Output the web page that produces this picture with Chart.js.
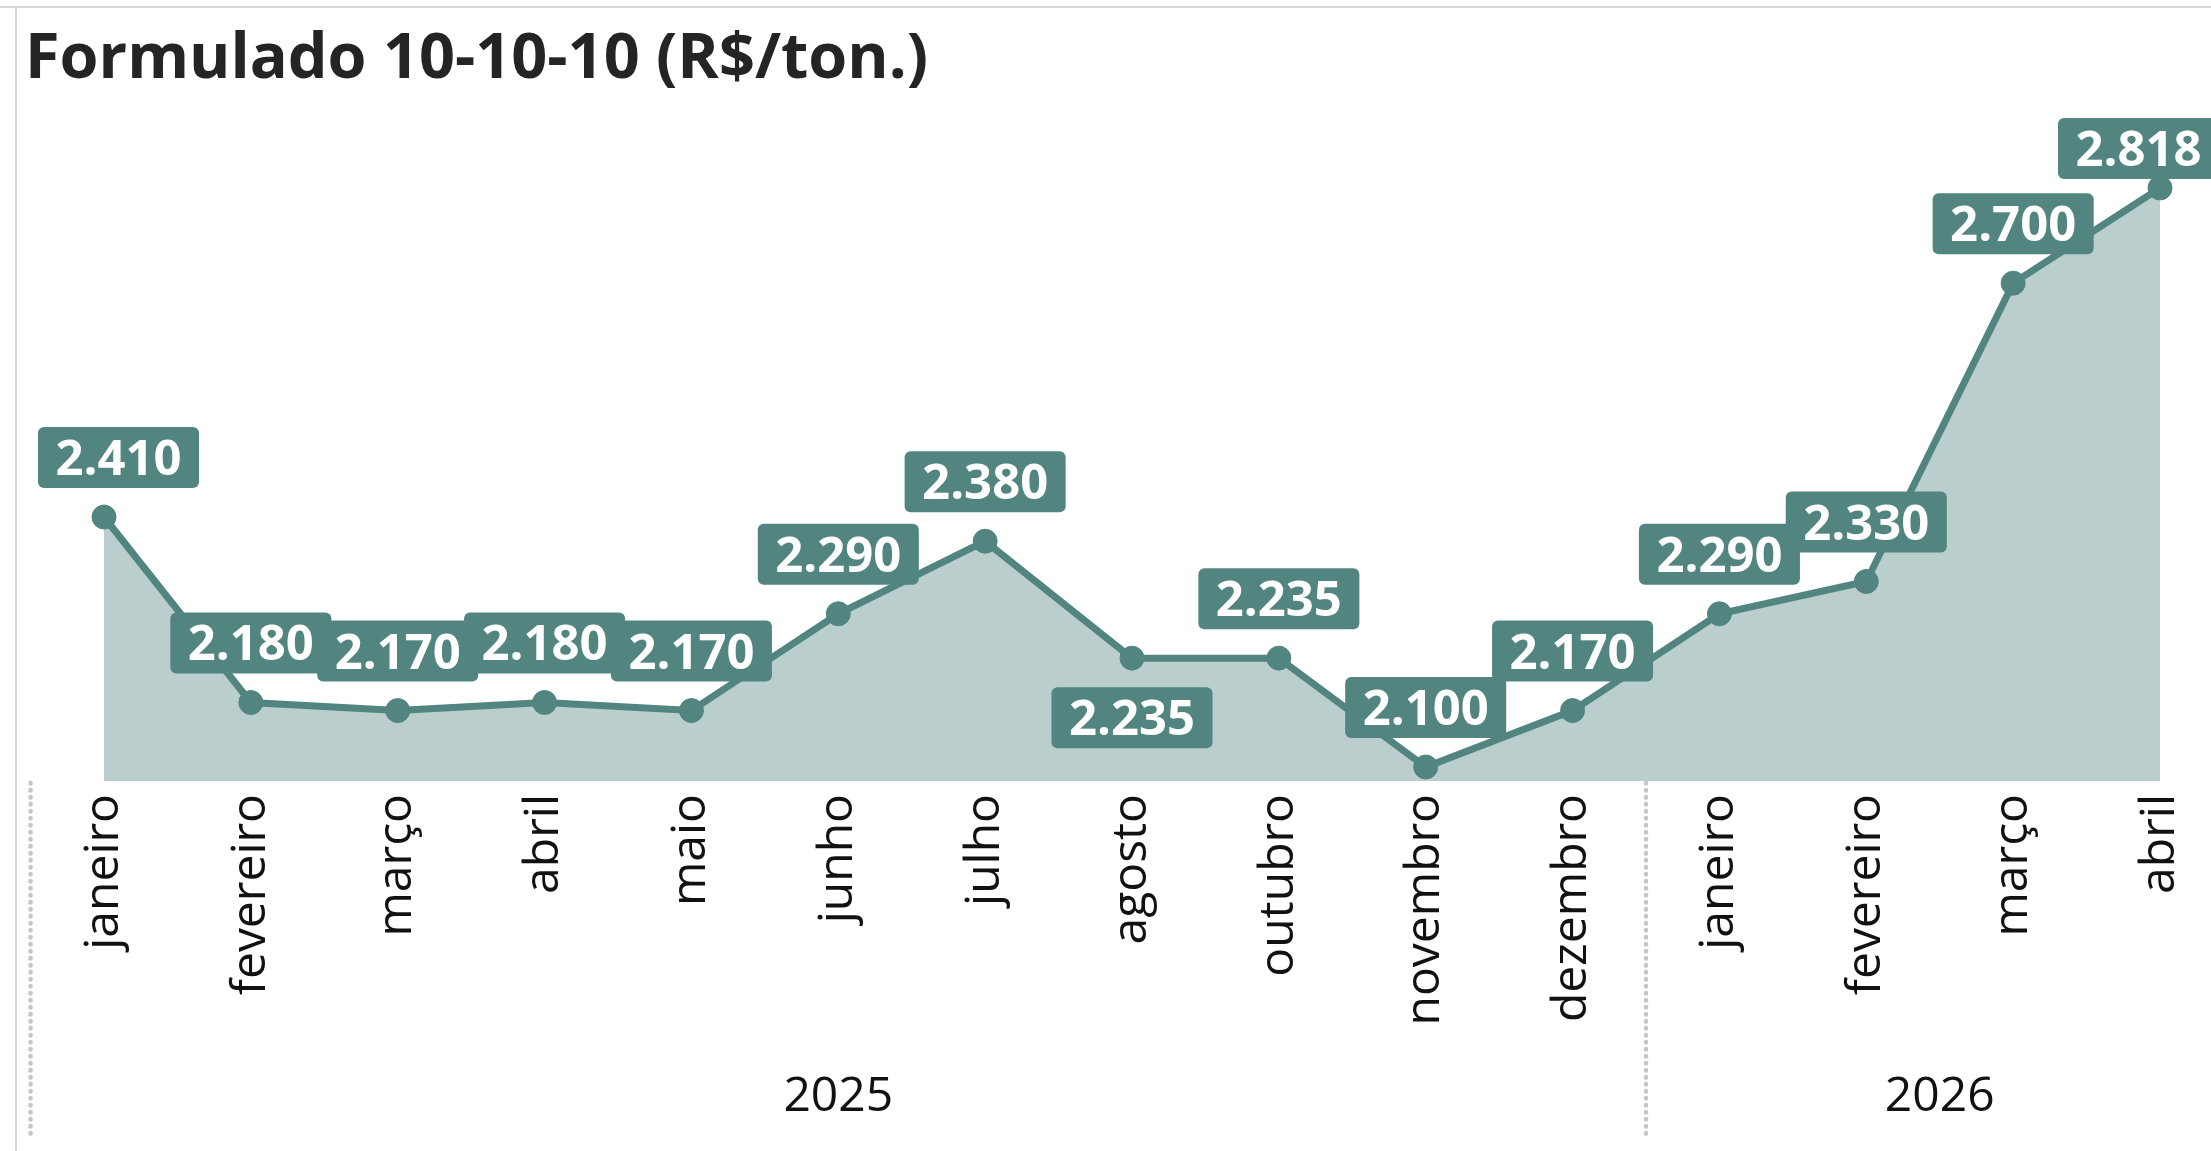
<!DOCTYPE html>
<html><head><meta charset="utf-8">
<script src="https://cdn.jsdelivr.net/npm/chart.js@4/dist/chart.umd.min.js"></script>
<style>
html,body{margin:0;padding:0;background:#fff;overflow:hidden;}
#wrap{position:relative;width:2211px;height:1151px;}
#frameTop{position:absolute;left:0;top:6px;width:2211px;height:2px;background:#dadada;}
#frameLeft{position:absolute;left:15px;top:6px;width:2px;height:1151px;background:#d6d6d6;}
#title{position:absolute;left:25px;top:22px;font-family:"Open Sans";font-weight:bold;font-size:63px;line-height:63px;color:#252423;white-space:nowrap;margin:0;}
canvas{position:absolute;left:0;top:0;}
</style></head>
<body><div id="wrap"><div id="frameTop"></div><div id="frameLeft"></div><canvas id="c" width="2211" height="1151"></canvas><div id="title">Formulado 10-10-10 (R$/ton.)</div></div>
<script>
const months = ['janeiro','fevereiro','março','abril','maio','junho','julho','agosto','outubro','novembro','dezembro','janeiro','fevereiro','março','abril'];
const prices = [2410, 2180, 2170, 2180, 2170, 2290, 2380, 2235, 2235, 2100, 2170, 2290, 2330, 2700, 2818];
const years = ['2025', '2026'];
const yearStart = [0, 11];
const yearEnd = [10, 14];
const labelsBelow = [7];

const TEAL = '#528580';
const FILL = '#b9cecd';

function fmt(v) {
  return String(Math.round(v)).replace(/\B(?=(\d{3})+(?!\d))/g, '.');
}

const overlay = {
  id: 'overlay',
  afterDatasetsDraw(chart) {
    const ctx = chart.ctx, meta = chart.getDatasetMeta(0), area = chart.chartArea;
    ctx.save();
    ctx.font = 'bold 49px "Open Sans"';
    meta.data.forEach((pt, i) => {
      const txt = fmt(prices[i]);
      const tw = ctx.measureText(txt).width;
      const w = tw + 35, h = 61, gap = 29;
      let x0 = pt.x - w / 2;
      x0 = Math.max(38, Math.min(x0, 2219 - w));
      let y0 = labelsBelow.includes(i) ? pt.y + gap : pt.y - gap - h;
      y0 = Math.max(area.top, y0);
      ctx.fillStyle = TEAL;
      ctx.beginPath();
      ctx.roundRect(x0, y0, w, h, 6);
      ctx.fill();
      ctx.fillStyle = '#ffffff';
      ctx.textAlign = 'center';
      ctx.textBaseline = 'alphabetic';
      ctx.fillText(txt, x0 + w / 2, y0 + 48);
    });
    ctx.restore();
  },
  afterDraw(chart) {
    const ctx = chart.ctx, xs = chart.scales.x, area = chart.chartArea;
    const step = xs.getPixelForValue(1) - xs.getPixelForValue(0);
    const bounds = [];
    ctx.save();
    ctx.font = '48px "Open Sans"';
    ctx.fillStyle = '#111';
    ctx.textAlign = 'center';
    ctx.textBaseline = 'alphabetic';
    years.forEach((y, g) => {
      const l = xs.getPixelForValue(yearStart[g]) - step / 2;
      const r = xs.getPixelForValue(yearEnd[g]) + step / 2;
      bounds.push(l);
      ctx.fillText(y, (l + r) / 2, 1111);
    });
    ctx.strokeStyle = '#c6c6c6';
    ctx.lineWidth = 4.5;
    ctx.lineCap = 'round';
    ctx.setLineDash([0.5, 6.5]);
    bounds.forEach(b => {
      ctx.beginPath();
      ctx.moveTo(b, area.bottom + 2);
      ctx.lineTo(b, 1137);
      ctx.stroke();
    });
    ctx.restore();
  }
};

function make() {
  new Chart(document.getElementById('c'), {
    type: 'line',
    data: {
      labels: months,
      datasets: [{
        data: prices,
        borderColor: TEAL,
        borderWidth: 7,
        backgroundColor: FILL,
        fill: 'start',
        pointRadius: 12,
        pointBackgroundColor: TEAL,
        pointBorderColor: TEAL,
        pointBorderWidth: 1,
        tension: 0,
        clip: false
      }]
    },
    options: {
      responsive: false,
      animation: false,
      devicePixelRatio: 1,
      layout: { padding: { left: 104, right: 51, top: 118, bottom: 0 }, autoPadding: false },
      plugins: { legend: { display: false }, tooltip: { enabled: false }, title: { display: false } },
      scales: {
        x: {
          offset: false,
          grid: { display: false, drawTicks: false },
          border: { display: false },
          ticks: { minRotation: 90, maxRotation: 90, autoSkip: false, padding: 13, color: '#111', font: { family: '"Open Sans"', size: 48 } },
          afterFit(s) { s.height = 370; s.paddingLeft = 0; s.paddingRight = 0; }
        },
        y: { display: false, min: 2082.64, max: 2904.8 }
      }
    },
    plugins: [overlay]
  });
}
Promise.all([
  document.fonts.load('bold 49px "Open Sans"'),
  document.fonts.load('48px "Open Sans"')
]).then(make, make);
</script>
</body></html>
